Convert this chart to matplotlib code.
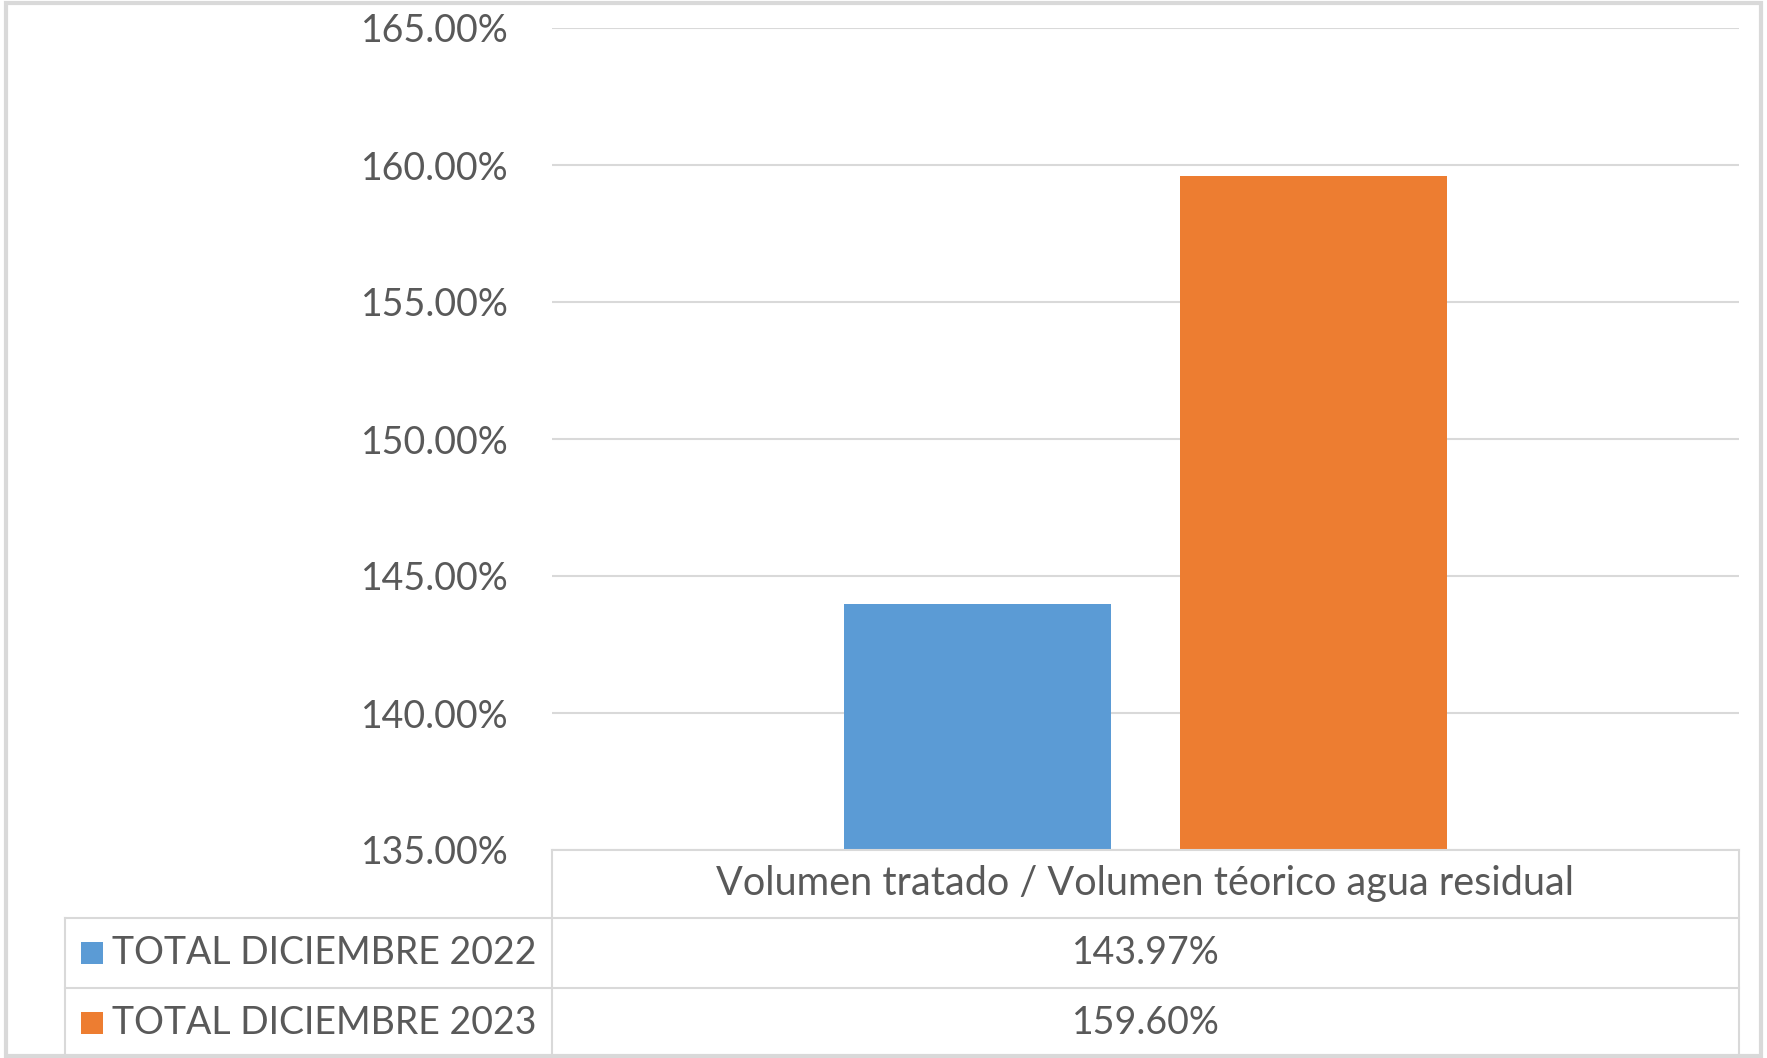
import matplotlib
matplotlib.use("Agg")
import matplotlib.pyplot as plt
from matplotlib.lines import Line2D
from matplotlib.patches import Rectangle
from matplotlib.ticker import FuncFormatter

# -----------------------------------------------------------------------
# Data
# -----------------------------------------------------------------------
category = "Volumen tratado / Volumen téorico agua residual"
series_names = ["TOTAL DICIEMBRE 2022", "TOTAL DICIEMBRE 2023"]
series_values = [143.97, 159.60]
series_colors = ["#5B9BD5", "#ED7D31"]
y_ticks = [135, 140, 145, 150, 155, 160, 165]

TEXT = "#595959"
GRID = "#D9D9D9"
W, H = 1767, 1058
plt.rcParams["font.family"] = ["Lato", "DejaVu Sans"]


def fx(px):
    return px / W


def fy(py):
    return 1 - py / H


fig = plt.figure(figsize=(W / 100, H / 100), dpi=100, facecolor="white")

# ---- bar chart area ----
left, right, top, bottom = 552, 1739, 28, 850
ax = fig.add_axes([fx(left), fy(bottom), fx(right - left), fy(top) - fy(bottom)])
offsets = [-0.1415, 0.1415]
for off, v, c in zip(offsets, series_values, series_colors):
    ax.bar(off, v, width=0.225, color=c, zorder=3)
ax.set_xlim(-0.5, 0.5)
ax.set_ylim(y_ticks[0], y_ticks[-1])
ax.set_yticks(y_ticks)
ax.yaxis.set_major_formatter(FuncFormatter(lambda v, _: f"{v:.2f}%"))
ax.tick_params(axis="y", length=0, pad=31, labelsize=27, labelcolor=TEXT)
ax.set_xticks([])
ax.grid(axis="y", color=GRID, linewidth=1.5, zorder=0)
for s in ax.spines.values():
    s.set_visible(False)

# ---- data table under the chart ----
rows = [850, 918, 988, 1057]
col_l, col_m, col_r = 65, 552, 1739


def hline(y, x0, x1):
    fig.add_artist(Line2D([fx(x0), fx(x1)], [fy(y), fy(y)], color=GRID, lw=1.5))


def vline(x, y0, y1):
    fig.add_artist(Line2D([fx(x), fx(x)], [fy(y0), fy(y1)], color=GRID, lw=1.5))


hline(rows[0], col_m, col_r)
hline(rows[1], col_l, col_r)
hline(rows[2], col_l, col_r)
vline(col_l, rows[1], rows[3])
vline(col_m, rows[0], rows[3])
vline(col_r, rows[0], rows[3])

fig.text(fx((col_m + col_r) / 2), fy((rows[0] + rows[1]) / 2), category,
         ha="center", va="center", fontsize=28.5, color=TEXT)
for i, (name, v, c) in enumerate(zip(series_names, series_values, series_colors)):
    yc = (rows[i + 1] + rows[i + 2]) / 2
    fig.add_artist(Rectangle((fx(81), fy(yc + 11)), fx(22), fy(yc - 11) - fy(yc + 11),
                             facecolor=c, edgecolor="none"))
    fig.text(fx(112), fy(yc), name, ha="left", va="center", fontsize=27, color=TEXT)
    fig.text(fx((col_m + col_r) / 2), fy(yc), f"{v:.2f}%",
             ha="center", va="center", fontsize=27, color=TEXT)

# ---- outer frame ----
fig.add_artist(Rectangle((fx(6), fy(1056)), fx(1755), fy(3) - fy(1056),
                         facecolor="none", edgecolor=GRID, lw=3))

fig.savefig("out.png", dpi=100, facecolor="white")
